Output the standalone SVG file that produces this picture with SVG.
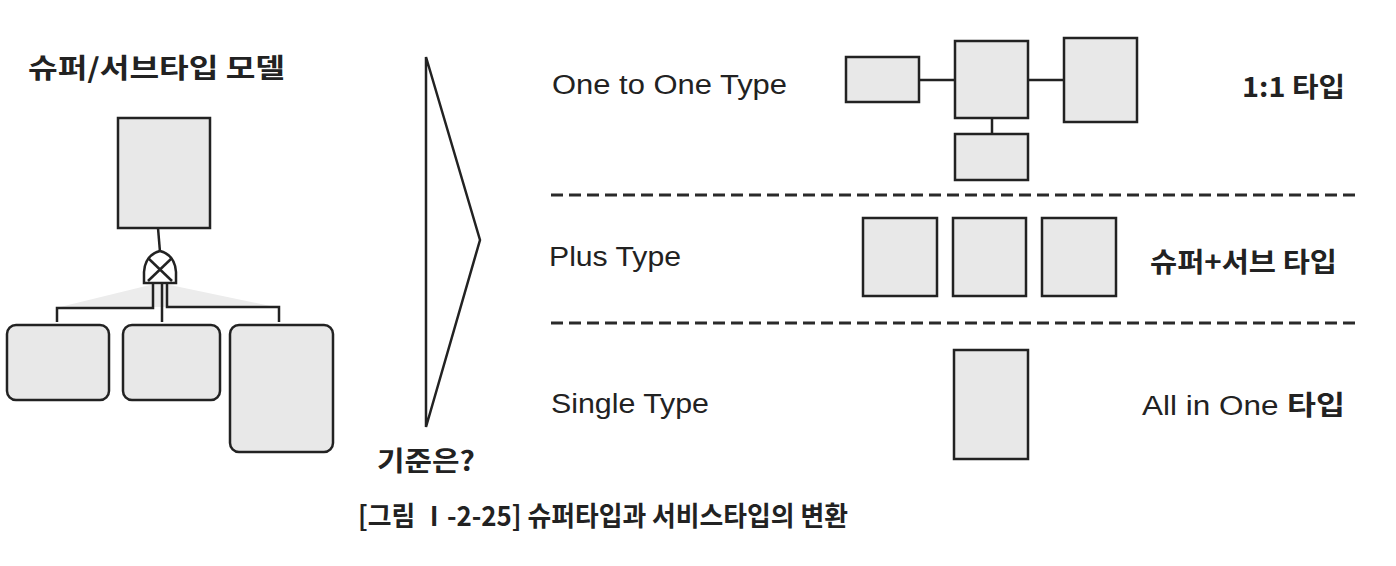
<svg xmlns="http://www.w3.org/2000/svg" width="1396" height="566" viewBox="0 0 1396 566">
<style>
.box{fill:#e8e8e8;stroke:#222;stroke-width:2.5}
.ln{fill:none;stroke:#222;stroke-width:2.5}
.dash{fill:none;stroke:#2a2a2a;stroke-width:3;stroke-dasharray:12 6}
.lat{font-family:"Liberation Sans","Noto Sans CJK KR",sans-serif;font-size:27px;fill:#222}
.kr{font-family:"Noto Sans CJK KR","Liberation Sans",sans-serif;font-size:27px;fill:#222}
.b{font-weight:bold}
</style>
<rect width="1396" height="566" fill="#ffffff"/>

<text class="kr b" x="28" y="78" textLength="257" lengthAdjust="spacingAndGlyphs">슈퍼/서브타입 모델</text>

<g id="super">
<rect class="box" x="118" y="118" width="92" height="110"/>
</g>
<g id="connectors">
<polygon points="150,285 60,307 275,307 170,285" fill="#ececec" stroke="none"/>
<line class="ln" x1="158" y1="228" x2="160" y2="252"/>
<path class="ln" d="M144,283 L144,272 Q145,255 160,251 Q175,255 176,272 L176,283 Z" fill="#ffffff"/>
<line class="ln" x1="148" y1="258" x2="172" y2="281" stroke-width="1.8"/>
<line class="ln" x1="172" y1="258" x2="148" y2="281" stroke-width="1.8"/>
<polyline class="ln" points="153,283 153,308 57,308 57,322"/>
<line class="ln" x1="162" y1="283" x2="162" y2="322"/>
<polyline class="ln" points="167,283 167,307 279,307 279,322"/>
<line class="ln" x1="919" y1="80" x2="955" y2="80"/>
<line class="ln" x1="1028" y1="80" x2="1064" y2="80"/>
<line class="ln" x1="992" y1="118" x2="992" y2="134"/>
</g>
<g id="sub1"><rect class="box" x="7" y="325" width="102" height="75" rx="9"/></g>
<g id="sub2"><rect class="box" x="123" y="325" width="97" height="75" rx="9"/></g>
<g id="sub3"><rect class="box" x="230" y="325" width="103" height="127" rx="9"/></g>

<g id="chevron">
<polygon class="ln" points="426,57 480,240 426,427" stroke-width="2"/>
</g>
<text class="kr b" x="377" y="471" textLength="98" lengthAdjust="spacingAndGlyphs">기준은?</text>

<text class="lat" x="552" y="94" textLength="235" lengthAdjust="spacingAndGlyphs">One to One Type</text>
<text class="lat" x="549" y="266" textLength="132" lengthAdjust="spacingAndGlyphs">Plus Type</text>
<text class="lat" x="551" y="413" textLength="158" lengthAdjust="spacingAndGlyphs">Single Type</text>

<g id="one-to-one">
<rect class="box" x="846" y="57" width="73" height="45"/>
<rect class="box" x="955" y="41" width="73" height="77"/>
<rect class="box" x="1064" y="38" width="73" height="84" stroke="#444"/>
<rect class="box" x="955" y="134" width="73" height="46"/>
</g>
<text class="kr b" x="1242" y="97" textLength="103" lengthAdjust="spacingAndGlyphs">1:1 타입</text>

<line class="dash" x1="551" y1="195" x2="1358" y2="195"/>
<line class="dash" x1="551" y1="323" x2="1358" y2="323"/>

<g id="plus">
<rect class="box" x="863" y="218" width="74" height="78"/>
<rect class="box" x="953" y="218" width="73" height="78"/>
<rect class="box" x="1042" y="218" width="74" height="78"/>
</g>
<text class="kr" x="1150" y="272" textLength="187" lengthAdjust="spacingAndGlyphs" font-weight="600">슈퍼+서브 타입</text>

<g id="single">
<rect class="box" x="954" y="350" width="74" height="109"/>
</g>
<text class="lat" x="1142" y="415" textLength="203" lengthAdjust="spacingAndGlyphs">All in One <tspan font-family="Noto Sans CJK KR, sans-serif" font-weight="bold">타입</tspan></text>

<text class="kr b" x="358" y="526" textLength="490" lengthAdjust="spacingAndGlyphs">[그림 Ⅰ-2-25] 슈퍼타입과 서비스타입의 변환</text>
</svg>
